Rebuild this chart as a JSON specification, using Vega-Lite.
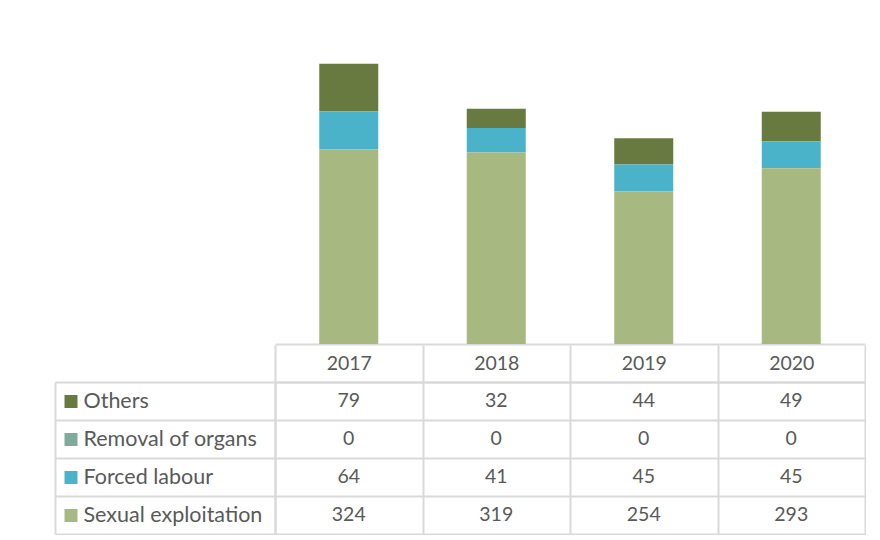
{
  "$schema": "https://vega.github.io/schema/vega-lite/v6.json",
  "padding": {"left": 54, "top": 44, "right": 0, "bottom": 0},
  "background": "white",
  "spacing": 0,
  "config": {"view": {"stroke": null}, "font": "Lato"},
  "datasets": {
    "cells": [
      {"year": "2017", "series": "Others", "value": 79},
      {"year": "2018", "series": "Others", "value": 32},
      {"year": "2019", "series": "Others", "value": 44},
      {"year": "2020", "series": "Others", "value": 49},
      {"year": "2017", "series": "Removal of organs", "value": 0},
      {"year": "2018", "series": "Removal of organs", "value": 0},
      {"year": "2019", "series": "Removal of organs", "value": 0},
      {"year": "2020", "series": "Removal of organs", "value": 0},
      {"year": "2017", "series": "Forced labour", "value": 64},
      {"year": "2018", "series": "Forced labour", "value": 41},
      {"year": "2019", "series": "Forced labour", "value": 45},
      {"year": "2020", "series": "Forced labour", "value": 45},
      {"year": "2017", "series": "Sexual exploitation", "value": 324},
      {"year": "2018", "series": "Sexual exploitation", "value": 319},
      {"year": "2019", "series": "Sexual exploitation", "value": 254},
      {"year": "2020", "series": "Sexual exploitation", "value": 293}
    ]
  },
  "vconcat": [
    {
      "width": 590,
      "height": 300,
      "data": {"name": "cells"},
      "transform": [
        {"calculate": "indexof(['Sexual exploitation', 'Forced labour', 'Removal of organs', 'Others'], datum.series)", "as": "stackOrder"}
      ],
      "mark": {"type": "bar"},
      "encoding": {
        "x": {
          "field": "year", "type": "ordinal",
          "scale": {"paddingInner": 0.6, "paddingOuter": 0.3},
          "axis": {"title": null, "labels": false, "ticks": false, "domain": true, "domainColor": "#d9d9d9", "domainWidth": 2}
        },
        "y": {
          "field": "value", "type": "quantitative",
          "scale": {"domain": [0, 500]},
          "axis": null
        },
        "color": {
          "field": "series", "type": "nominal",
          "scale": {
            "domain": ["Sexual exploitation", "Forced labour", "Removal of organs", "Others"],
            "range": ["#a7b980", "#4bb3c9", "#7fab9c", "#687a3f"]
          },
          "legend": null
        },
        "order": {"field": "stackOrder", "type": "quantitative", "sort": "ascending"}
      }
    },
    {
      "width": 590,
      "height": 152,
      "data": {"name": "cells"},
      "resolve": {"axis": {"y": "independent"}},
      "layer": [
        {
          "mark": {"type": "text", "fontSize": 19.5, "color": "#595959", "font": "Lato"},
          "encoding": {
            "x": {
              "field": "year", "type": "ordinal",
              "scale": {"paddingInner": 0, "paddingOuter": 0},
              "axis": {
                "orient": "top", "title": null, "labelAngle": 0,
                "tickBand": "extent", "tickSize": 37, "tickColor": "#d9d9d9", "tickWidth": 2,
                "domain": true, "domainColor": "#d9d9d9", "domainWidth": 2,
                "grid": true, "gridColor": "#d9d9d9", "gridWidth": 2,
                "labelBaseline": "middle", "labelPadding": -18.5,
                "labelFontSize": 19.5, "labelColor": "#595959", "labelFont": "Lato"
              }
            },
            "y": {
              "field": "series", "type": "nominal",
              "sort": ["Others", "Removal of organs", "Forced labour", "Sexual exploitation"],
              "scale": {"paddingInner": 0, "paddingOuter": 0},
              "axis": {
                "orient": "left", "title": null,
                "tickBand": "extent", "tickSize": 220, "tickColor": "#d9d9d9", "tickWidth": 2,
                "domain": true, "domainColor": "#d9d9d9", "domainWidth": 2,
                "grid": true, "gridColor": "#d9d9d9", "gridWidth": 2,
                "labelAlign": "left", "labelBaseline": "middle", "labelPadding": -28,
                "labelFontSize": 21.5, "labelColor": "#595959", "labelFont": "Lato", "labelLimit": 0
              }
            },
            "text": {"field": "value", "type": "quantitative"}
          }
        },
        {
          "mark": {"type": "text", "opacity": 0},
          "encoding": {
            "y": {
              "field": "series", "type": "nominal",
              "sort": ["Others", "Removal of organs", "Forced labour", "Sexual exploitation"],
              "axis": {
                "orient": "left", "title": null, "offset": 198,
                "domain": false, "labels": false, "grid": false,
                "ticks": true, "tickSize": 13, "tickWidth": 13,
                "tickColor": {
                  "condition": [
                    {"test": "datum.value === 'Others'", "value": "#687a3f"},
                    {"test": "datum.value === 'Removal of organs'", "value": "#7fab9c"},
                    {"test": "datum.value === 'Forced labour'", "value": "#4bb3c9"}
                  ],
                  "value": "#a7b980"
                }
              }
            }
          }
        },
        {
          "mark": {"type": "text", "opacity": 0},
          "encoding": {
            "y": {
              "field": "series", "type": "nominal",
              "sort": ["Others", "Removal of organs", "Forced labour", "Sexual exploitation"],
              "axis": {
                "orient": "left", "title": null, "offset": 220,
                "domain": true, "domainColor": "#d9d9d9", "domainWidth": 2,
                "labels": false, "grid": false, "ticks": false
              }
            }
          }
        }
      ]
    }
  ]
}
